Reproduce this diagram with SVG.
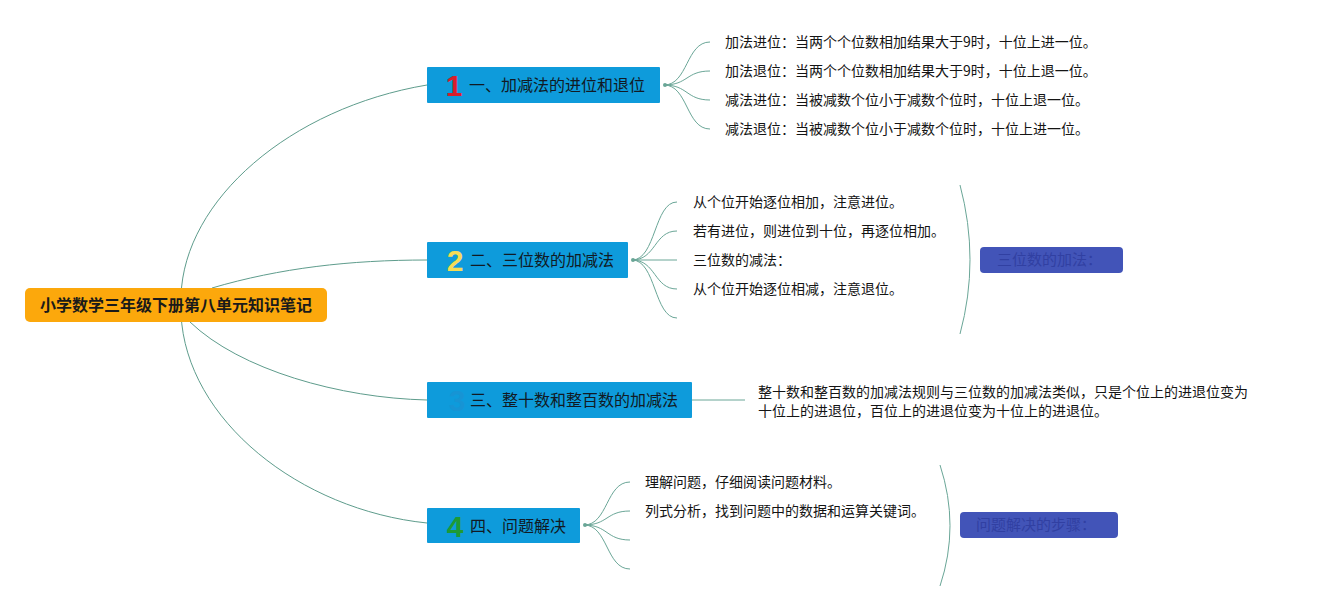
<svg xmlns="http://www.w3.org/2000/svg" width="1317" height="610" viewBox="0 0 1317 610">
<style>
.bg{fill:#ffffff}
.root{fill:#FCA80C}
.rootText{font-family:"Noto Sans CJK SC","Noto Sans",sans-serif;font-size:16px;font-weight:bold;fill:#1a1a1a}
.topic{fill:#0E9BDB}
.topicText{font-family:"Noto Sans CJK SC","Noto Sans",sans-serif;font-size:16px;fill:#111a24}
.num{font-family:"Liberation Sans","DejaVu Sans",sans-serif;font-size:30px;font-weight:bold}
.leaf{font-family:"Noto Sans CJK SC","Noto Sans",sans-serif;font-size:14px;fill:#141414}
.summary{fill:#4254B8}
.summaryText{font-family:"Noto Sans CJK SC","Noto Sans",sans-serif;font-size:15px;fill:#3140A2}
.link{fill:none;stroke:#5E9C8C;stroke-width:1}
.sub{fill:none;stroke:#6AA697;stroke-width:1}
.dot{fill:#6AA697}
</style>
<rect class="bg" x="0" y="0" width="1317" height="610"/>

<g id="connectors">
  <path class="link" d="M181,296 C184,200 290,108 427,85"/>
  <path class="link" d="M212,288 C280,268 350,260 427,260"/>
  <path class="link" d="M190,322 C240,370 340,398 427,400"/>
  <path class="link" d="M181,314 C186,420 300,510 427,523"/>

  <path class="sub" d="M664,85 C688,85 686,42 710,42"/>
  <path class="sub" d="M664,85 C688,85 686,71 710,71"/>
  <path class="sub" d="M664,85 C688,85 686,100 710,100"/>
  <path class="sub" d="M664,85 C688,85 686,129 710,129"/>

  <path class="sub" d="M632,260 C656,260 654,202 677,202"/>
  <path class="sub" d="M632,260 C656,260 654,231 677,231"/>
  <path class="sub" d="M632,260 L677,260"/>
  <path class="sub" d="M632,260 C656,260 654,289 677,289"/>
  <path class="sub" d="M632,260 C656,260 654,318 677,318"/>

  <path class="sub" d="M692,400 L745,400"/>

  <path class="sub" d="M584,525 C608,525 606,482 630,482"/>
  <path class="sub" d="M584,525 C608,525 606,511 630,511"/>
  <path class="sub" d="M584,525 C608,525 606,540 630,540"/>
  <path class="sub" d="M584,525 C608,525 606,569 630,569"/>

  <path class="sub" d="M960,185 Q980,260 960,334"/>
  <path class="sub" d="M940,465 Q960,526 940,586"/>

  <circle class="dot" cx="665" cy="85" r="2"/>
  <circle class="dot" cx="633" cy="260" r="2"/>
  <circle class="dot" cx="585" cy="525" r="2"/>
</g>

<g id="root">
  <rect class="root" x="25" y="288" width="302" height="34" rx="5"/>
  <text class="rootText" x="176" y="311" text-anchor="middle">小学数学三年级下册第八单元知识笔记</text>
</g>

<g id="topic1">
  <rect class="topic" x="427" y="67" width="233" height="36" rx="1"/>
  <text class="num" x="454" y="96" text-anchor="middle" fill="#D81E2C">1</text>
  <text class="topicText" x="469" y="91">一、加减法的进位和退位</text>
</g>

<g id="topic2">
  <rect class="topic" x="427" y="242" width="201" height="36" rx="1"/>
  <text class="num" x="455" y="271" text-anchor="middle" fill="#F5DC55">2</text>
  <text class="topicText" x="470" y="266">二、三位数的加减法</text>
</g>

<g id="topic3">
  <rect class="topic" x="427" y="382" width="265" height="36" rx="1"/>
  <text class="num" x="457" y="411" text-anchor="middle" fill="#1794D4">3</text>
  <text class="topicText" x="470" y="406">三、整十数和整百数的加减法</text>
</g>

<g id="topic4">
  <rect class="topic" x="427" y="508" width="153" height="35" rx="1"/>
  <text class="num" x="455" y="537" text-anchor="middle" fill="#1E9A35">4</text>
  <text class="topicText" x="470" y="532">四、问题解决</text>
</g>

<g id="leaves1">
  <text class="leaf" x="725" y="47">加法进位：当两个个位数相加结果大于9时，十位上进一位。</text>
  <text class="leaf" x="725" y="76">加法退位：当两个个位数相加结果大于9时，十位上退一位。</text>
  <text class="leaf" x="725" y="105">减法进位：当被减数个位小于减数个位时，十位上退一位。</text>
  <text class="leaf" x="725" y="134">减法退位：当被减数个位小于减数个位时，十位上进一位。</text>
</g>

<g id="leaves2">
  <text class="leaf" x="693" y="207">从个位开始逐位相加，注意进位。</text>
  <text class="leaf" x="693" y="236">若有进位，则进位到十位，再逐位相加。</text>
  <text class="leaf" x="693" y="265">三位数的减法：</text>
  <text class="leaf" x="693" y="294">从个位开始逐位相减，注意退位。</text>
</g>

<g id="summary2">
  <rect class="summary" x="980" y="247" width="143" height="26" rx="4"/>
  <text class="summaryText" x="997" y="265">三位数的加法：</text>
</g>

<g id="leaves3">
  <text class="leaf" x="758" y="397">整十数和整百数的加减法规则与三位数的加减法类似，只是个位上的进退位变为</text>
  <text class="leaf" x="758" y="416">十位上的进退位，百位上的进退位变为十位上的进退位。</text>
</g>

<g id="leaves4">
  <text class="leaf" x="645" y="487">理解问题，仔细阅读问题材料。</text>
  <text class="leaf" x="645" y="516">列式分析，找到问题中的数据和运算关键词。</text>
</g>

<g id="summary4">
  <rect class="summary" x="960" y="512" width="158" height="26" rx="4"/>
  <text class="summaryText" x="976" y="530">问题解决的步骤：</text>
</g>
</svg>
